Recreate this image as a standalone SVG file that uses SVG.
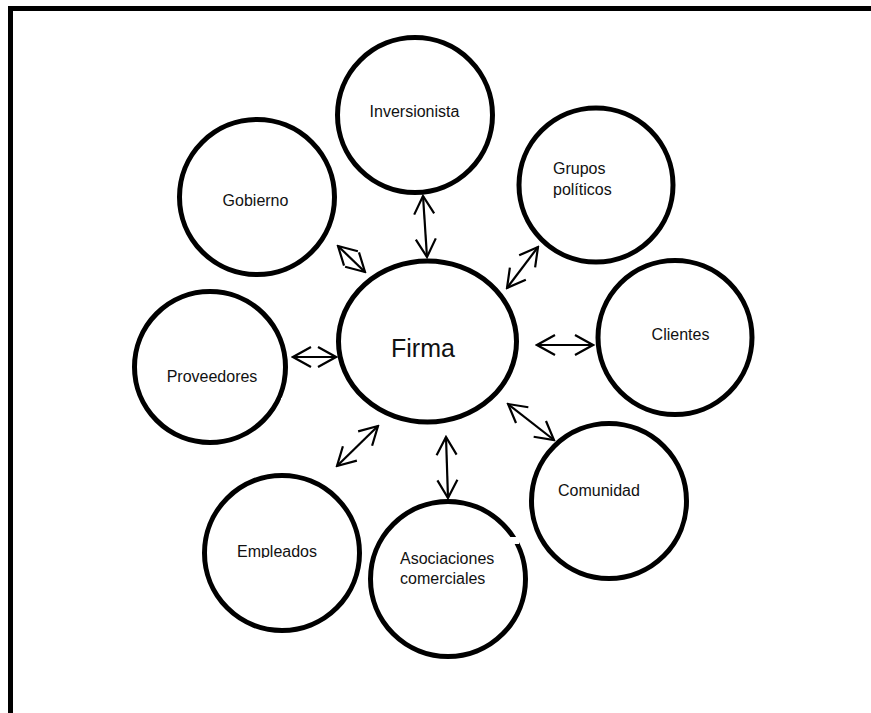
<svg xmlns="http://www.w3.org/2000/svg" width="871" height="713" viewBox="0 0 871 713">
<defs>
<style>
.node{fill:#fff;stroke:#000;stroke-width:5}
.lbl{font-family:"Liberation Sans",Arial,sans-serif;font-size:16px;fill:#111}
.c{text-anchor:middle}
.conn line{stroke:#000;stroke-width:2.2;marker-start:url(#ah);marker-end:url(#ah)}
</style>
<marker id="ah" viewBox="-21 -12 23 24" refX="0" refY="0" markerWidth="23" markerHeight="24" markerUnits="userSpaceOnUse" orient="auto-start-reverse">
<path d="M-18,-10 L0,0 L-18,10" fill="none" stroke="#000" stroke-width="2.2"/>
</marker>
<clipPath id="clipInv"><rect x="300" y="60" width="240" height="58"/></clipPath>
<clipPath id="clipEmp"><rect x="200" y="500" width="160" height="58"/></clipPath>
</defs>
<rect width="871" height="713" fill="#fff"/>
<path d="M10.5,720 V8.5 H871" fill="none" stroke="#000" stroke-width="5"/>

<g id="firma"><ellipse class="node" cx="427.5" cy="341.5" rx="89" ry="80.5"/><text class="lbl c" x="423" y="357" style="font-size:25px">Firma</text></g>
<g id="inversionista"><circle class="node" cx="415" cy="115" r="77.5"/><text class="lbl c" x="414.5" y="117" clip-path="url(#clipInv)">Inversionista</text></g>
<g id="gobierno"><circle class="node" cx="257" cy="197" r="77.5"/><text class="lbl c" x="255.5" y="206">Gobierno</text></g>
<g id="grupos"><circle class="node" cx="596" cy="185" r="77"/><text class="lbl" x="553" y="174">Grupos</text><text class="lbl" x="553" y="195">políticos</text></g>
<g id="clientes"><circle class="node" cx="675" cy="337.5" r="77"/><text class="lbl c" x="680.5" y="340">Clientes</text></g>
<g id="proveedores"><circle class="node" cx="210" cy="367" r="75.5"/><text class="lbl c" x="212" y="382">Proveedores</text><rect x="281" y="398" width="9" height="5" fill="#fff"/></g>
<g id="comunidad"><circle class="node" cx="609" cy="501" r="77.5"/><text class="lbl" x="558" y="496">Comunidad</text></g>
<g id="empleados"><circle class="node" cx="282" cy="553" r="77.5"/><text class="lbl c" x="277" y="557" clip-path="url(#clipEmp)">Empleados</text></g>
<g id="asociaciones"><circle class="node" cx="448" cy="579" r="77.5"/><text class="lbl" x="400" y="564">Asociaciones</text><text class="lbl" x="400" y="584">comerciales</text><rect x="509" y="537" width="10" height="7" fill="#fff"/></g>

<g id="connectors" class="conn">
<line x1="423" y1="196" x2="427" y2="257"/>
<line x1="338" y1="246" x2="365" y2="272"/>
<line x1="538" y1="247" x2="507" y2="288"/>
<line x1="293" y1="357" x2="336" y2="357"/>
<line x1="537" y1="345" x2="593" y2="345"/>
<line x1="508" y1="404" x2="554" y2="440"/>
<line x1="378" y1="426" x2="337" y2="466"/>
<line x1="446" y1="437" x2="448" y2="498"/>
</g>
</svg>
